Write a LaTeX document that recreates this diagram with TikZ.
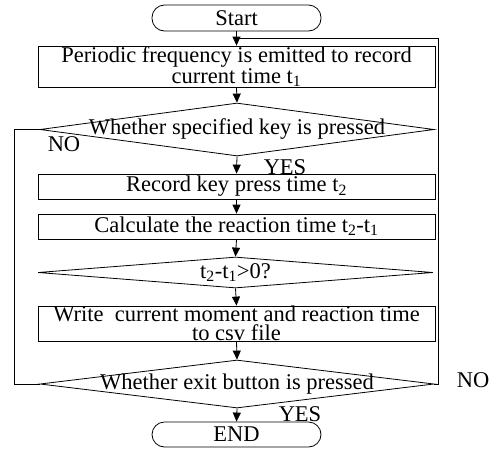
\documentclass[tikz,border=0pt]{standalone}
\usepackage{fontspec}
\setmainfont{Liberation Serif}
\usetikzlibrary{arrows.meta,shapes.geometric}
\begin{document}
\begin{tikzpicture}[x=1pt,y=-1pt,
  every node/.style={font=\fontsize{22.5}{18.5}\selectfont},
  proc/.style={draw,line width=0.8pt,minimum width=397pt,inner sep=0pt,align=center},
  term/.style={draw,line width=0.8pt,rounded corners=12.5pt,minimum width=169pt,inner sep=0pt},
  dec/.style={draw,line width=0.8pt,shape=diamond,inner sep=0pt,aspect=7},
  lbl/.style={inner sep=0pt},
  flow/.style={line width=0.8pt,-{Triangle[length=9pt,width=8pt]}},
  link/.style={line width=0.8pt}]
\useasboundingbox (0,0) rectangle (498,448);
\node[term,minimum height=26pt] (start) at (236.5,18) {Start};
\node[proc,minimum height=41pt] (b1) at (236.5,66.5) {Periodic frequency is emitted to record\\current time t\textsubscript{1}};
\node[dec,minimum width=394pt,minimum height=53pt,label={[lbl]center:Whether specified key is pressed}] (d1) at (237,129.5) {};
\node[proc,minimum height=25pt] (b2) at (236.5,186.5) {Record key press time t\textsubscript{2}};
\node[proc,minimum height=25pt] (b3) at (236.5,226.5) {Calculate the reaction time t\textsubscript{2}-t\textsubscript{1}};
\node[dec,minimum width=395pt,minimum height=31pt,label={[lbl]center:t\textsubscript{2}-t\textsubscript{1}>0?}] (d2) at (235.5,272.5) {};
\node[proc,minimum height=35pt] (b4) at (236.5,323.5) {Write\ \ current moment and reaction time\\to csv file};
\node[dec,minimum width=394pt,minimum height=48pt,label={[lbl]center:Whether exit button is pressed}] (d3) at (237,384) {};
\node[term,minimum height=25pt] (end) at (236.5,434.5) {END};
\node[lbl] (no1) at (64,144) {NO};
\node[lbl] (yes1) at (285,167) {YES};
\node[lbl] (no2) at (473,380) {NO};
\node[lbl] (yes2) at (300,414) {YES};
\coordinate (j1) at (237,38);
\coordinate (lt) at (14,129.5);
\coordinate (lb) at (14,384);
\coordinate (rb) at (438,384);
\coordinate (rt) at (438,38);
\draw[flow] (start.south) -- (b1.north);
\draw[flow] (b1.south) -- (d1.north);
\draw[flow] (d1.south) -- (b2.north);
\draw[flow] (b2.south) -- (b3.north);
\draw[flow] (b3.south) -- (d2.north);
\draw[flow] (d2.south) -- (b4.north);
\draw[flow] (b4.south) -- (d3.north);
\draw[flow] (d3.south) -- (end.north);
\draw[link] (d1.west) -- (lt) -- (lb) -- (d3.west);
\draw[link] (d3.east) -- (rb) -- (rt) -- (j1);
\end{tikzpicture}
\end{document}
